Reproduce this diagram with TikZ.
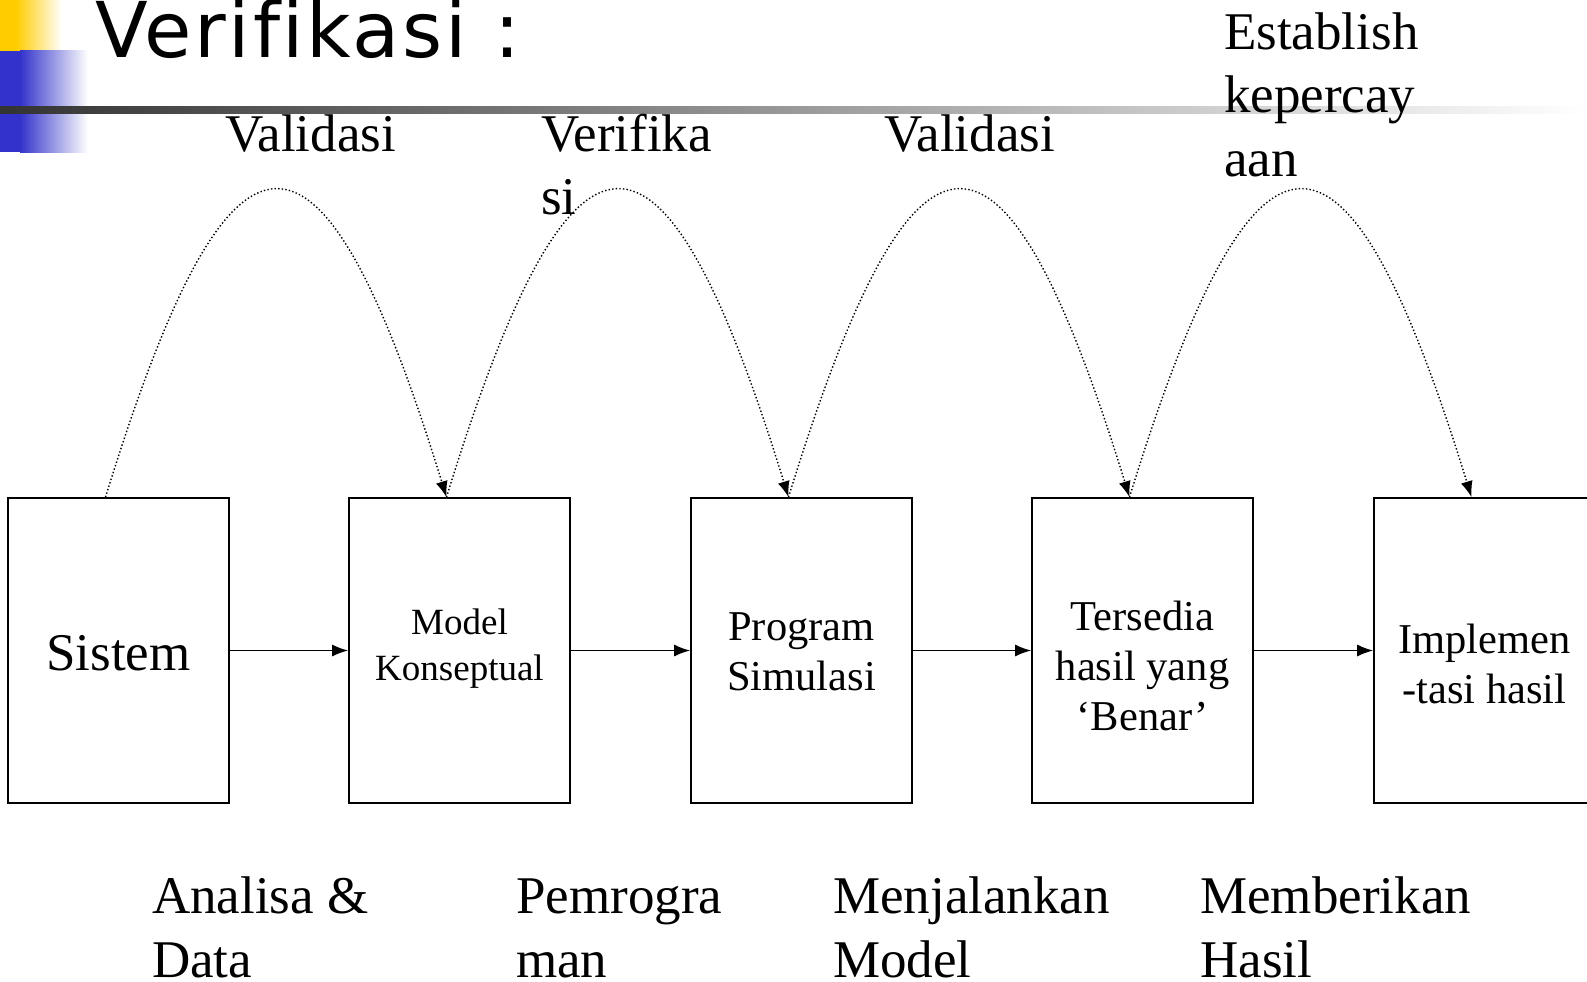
\documentclass[tikz,border=0pt]{standalone}
\usepackage{fontspec}
\setmainfont{Liberation Serif}[Ligatures=NoCommon]
\newfontfamily\titlefont{DejaVu Sans}[Ligatures=NoCommon, LetterSpace=3.5]
\usetikzlibrary{arrows.meta}
\definecolor{ppyellow}{RGB}{255,204,0}
\definecolor{ppblue}{RGB}{51,51,204}
\definecolor{ppdark}{RGB}{51,51,51}
\begin{document}
\begin{tikzpicture}[x=1pt,y=-1pt,
  stepbox/.style={draw, line width=1.6pt, minimum width=221pt, minimum height=305pt, inner sep=0pt},
  flow/.style={line width=1.6pt, -{Latex[length=16pt,width=12pt]}},
  loop/.style={line width=1.4pt, dash pattern=on 1.4pt off 2.2pt, -{Latex[length=16pt,width=12pt]}},
  lbl/.style={anchor=base west, align=left, inner sep=0pt, font=\fontsize{53}{63.5}\selectfont},
  boxtxt/.style={anchor=base, align=center, inner sep=0pt, font=\fontsize{42.5}{50}\selectfont}]
\useasboundingbox (0,0) rectangle (1587,982);
\clip (0,0) rectangle (1587,982);
% decoration
\fill[ppyellow] (0,0) rectangle (16,51);
\shade[left color=ppyellow, right color=white] (16,0) rectangle (62,51);
\fill[ppblue] (0,51) rectangle (20,152);
\shade[left color=ppblue, right color=white] (20,51) rectangle (88,152);
\shade[left color=ppdark, right color=white] (0,106) rectangle (1587,113);
% title
\node[anchor=base west, inner sep=0pt, font=\titlefont\fontsize{77}{77}\selectfont] (title) at (95,58) {Verifikasi :};
% boxes
\node[stepbox] (b1) at (118.5,650.5) {};
\node[stepbox] (b2) at (459.5,650.5) {};
\node[stepbox] (b3) at (801.5,650.5) {};
\node[stepbox] (b4) at (1142.5,650.5) {};
\node[stepbox] (b5) at (1484.5,650.5) {};
% box texts (anchor base = last line)
\node[boxtxt, font=\fontsize{53}{60}\selectfont] (t1) at (118.5,670) {Sistem};
\node[boxtxt, font=\fontsize{37}{46}\selectfont] (t2) at (459.5,680) {Model\\Konseptual};
\node[boxtxt] (t3) at (801.5,690) {Program\\Simulasi};
\node[boxtxt] (t4) at (1142.5,730.7) {Tersedia\\hasil yang\\‘Benar’};
\node[boxtxt] (t5) at (1484.5,703) {Implemen\\-tasi hasil};
% flow arrows
\draw[flow] (b1.east) -- (b2.west);
\draw[flow] (b2.east) -- (b3.west);
\draw[flow] (b3.east) -- (b4.west);
\draw[flow] (b4.east) -- (b5.west);
% loops
\draw[loop] ([xshift=-13pt]b1.north) .. controls +(126,-409) and +(-126,-409) .. ([xshift=-13pt]b2.north);
\draw[loop] ([xshift=-13pt]b2.north) .. controls +(126,-409) and +(-126,-409) .. ([xshift=-13pt]b3.north);
\draw[loop] ([xshift=-13pt]b3.north) .. controls +(126,-409) and +(-126,-409) .. ([xshift=-13pt]b4.north);
\draw[loop] ([xshift=-13pt]b4.north) .. controls +(126,-409) and +(-126,-409) .. ([xshift=-13pt]b5.north);
% top labels (anchor base = last line)
\node[lbl] (v1) at (225,151) {Validasi};
\node[lbl] (v2) at (541,214.6) {Verifika\\si};
\node[lbl] (v3) at (884,151) {Validasi};
\node[lbl] (v4) at (1224,176) {Establish\\kepercay\\aan};
% bottom labels
\node[lbl] (p1) at (152,977) {Analisa \&\\Data};
\node[lbl] (p2) at (516,977) {Pemrogra\\man};
\node[lbl] (p3) at (833,977) {Menjalankan\\Model};
\node[lbl] (p4) at (1200,977) {Memberikan\\Hasil};
\end{tikzpicture}
\end{document}
